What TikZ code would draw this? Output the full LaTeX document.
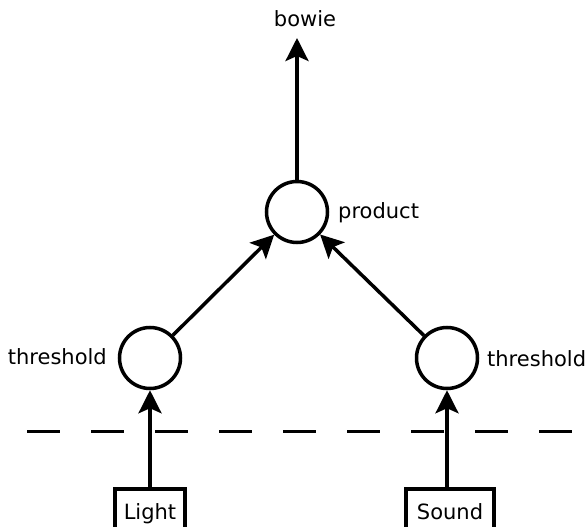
\documentclass[tikz,border=0pt]{standalone}
\usepackage{fontspec}
\setmainfont{DejaVu Sans}
\usetikzlibrary{arrows.meta}
\begin{document}
\begin{tikzpicture}[x=1pt,y=-1pt,
  unit/.style={draw,circle,line width=3.5pt,minimum size=61pt,inner sep=0pt},
  inbox/.style={draw,line width=3.5pt,inner sep=0pt,minimum height=46pt,text depth=0pt},
  lbl/.style={font=\fontsize{21}{21}\selectfont},
  tag/.style={lbl,inner sep=0pt},
  conn/.style={line width=3.5pt,-{Stealth[length=23pt,width=23pt,inset=5pt]}}]
\clip (0,0) rectangle (587,527);
\useasboundingbox (0,0) rectangle (587,527);
\node[unit] (prod) at (297,212) {};
\node[unit] (tl) at (150,358) {};
\node[unit] (tr) at (447,358) {};
\node[tag,anchor=west] (prodl) at (338,213) {product};
\node[tag,anchor=east] (tll) at (107,357) {threshold};
\node[tag,anchor=west] (trl) at (487,359) {threshold};
\node[lbl] (bowie) at (305,19) {bowie};
\coordinate (btop) at (297,38);
\node[inbox,lbl,minimum width=70pt] (light) at (150,512) {Light};
\node[inbox,lbl,minimum width=88pt] (sound) at (450,512) {Sound};
\draw[line width=3pt,dash pattern=on 33pt off 31pt] (27,431) -- (575,431);
\draw[conn] (prod) -- (btop);
\draw[conn] (tl) -- (prod);
\draw[conn] (tr) -- (prod);
\draw[conn] (light.north -| tl) -- (tl);
\draw[conn] (sound.north -| tr) -- (tr);
\end{tikzpicture}
\end{document}
